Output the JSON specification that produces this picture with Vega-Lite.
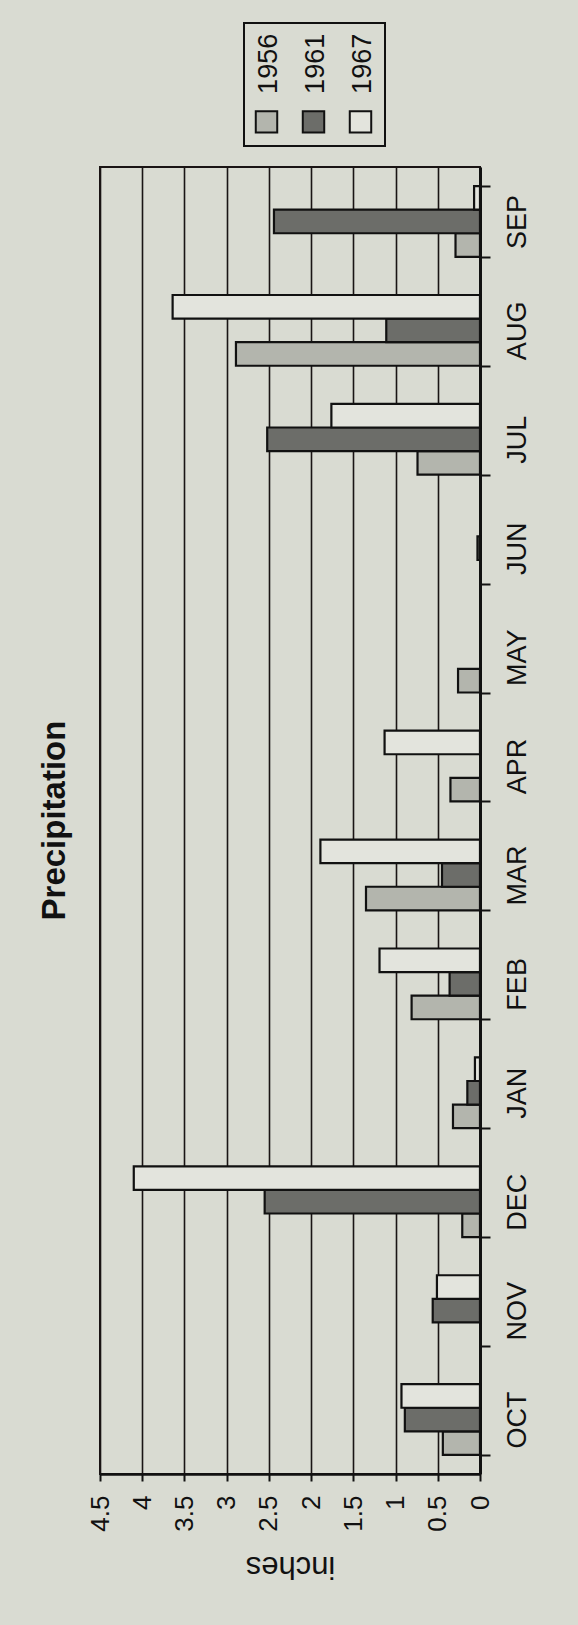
{
  "$schema": "https://vega.github.io/schema/vega-lite/v6.json",
  "width": 380,
  "height": 1307,
  "autosize": {"type": "none"},
  "padding": {"left": 100, "top": 167, "right": 98, "bottom": 151},
  "background": "#d9dbd2",
  "config": {
    "font": "Liberation Sans",
    "view": {"stroke": "#1a1414", "strokeWidth": 2}
  },
  "title": {
    "text": "Precipitation",
    "orient": "left",
    "anchor": "middle",
    "fontSize": 33,
    "font": "Liberation Sans",
    "fontWeight": "bold",
    "color": "#111111",
    "offset": 15
  },
  "data": {
    "values": [
      {"month": "OCT", "year": "1956", "value": 0.44},
      {"month": "OCT", "year": "1961", "value": 0.89},
      {"month": "OCT", "year": "1967", "value": 0.93},
      {"month": "NOV", "year": "1961", "value": 0.56},
      {"month": "NOV", "year": "1967", "value": 0.51},
      {"month": "DEC", "year": "1956", "value": 0.21},
      {"month": "DEC", "year": "1961", "value": 2.55},
      {"month": "DEC", "year": "1967", "value": 4.10},
      {"month": "JAN", "year": "1956", "value": 0.32},
      {"month": "JAN", "year": "1961", "value": 0.15},
      {"month": "JAN", "year": "1967", "value": 0.06},
      {"month": "FEB", "year": "1956", "value": 0.81},
      {"month": "FEB", "year": "1961", "value": 0.36},
      {"month": "FEB", "year": "1967", "value": 1.19},
      {"month": "MAR", "year": "1956", "value": 1.35},
      {"month": "MAR", "year": "1961", "value": 0.45},
      {"month": "MAR", "year": "1967", "value": 1.89},
      {"month": "APR", "year": "1956", "value": 0.35},
      {"month": "APR", "year": "1967", "value": 1.13},
      {"month": "MAY", "year": "1956", "value": 0.26},
      {"month": "JUN", "year": "1961", "value": 0.03},
      {"month": "JUL", "year": "1956", "value": 0.74},
      {"month": "JUL", "year": "1961", "value": 2.52},
      {"month": "JUL", "year": "1967", "value": 1.76},
      {"month": "AUG", "year": "1956", "value": 2.89},
      {"month": "AUG", "year": "1961", "value": 1.11},
      {"month": "AUG", "year": "1967", "value": 3.64},
      {"month": "SEP", "year": "1956", "value": 0.29},
      {"month": "SEP", "year": "1961", "value": 2.44},
      {"month": "SEP", "year": "1967", "value": 0.07}
    ]
  },
  "mark": {"type": "bar", "stroke": "#111111", "strokeWidth": 2.2},
  "encoding": {
    "y": {
      "field": "month",
      "type": "nominal",
      "sort": ["SEP", "AUG", "JUL", "JUN", "MAY", "APR", "MAR", "FEB", "JAN", "DEC", "NOV", "OCT"],
      "scale": {"paddingInner": 0.35, "paddingOuter": 0.175},
      "axis": {
        "orient": "right",
        "title": null,
        "labelAngle": -90,
        "labelFontSize": 27,
        "labelColor": "#111111",
        "labelPadding": 14,
        "tickBand": "extent",
        "tickSize": 10,
        "tickWidth": 2,
        "tickColor": "#111111",
        "domainColor": "#111111",
        "domainWidth": 3,
        "grid": false
      }
    },
    "yOffset": {
      "field": "year",
      "type": "nominal",
      "sort": ["1967", "1961", "1956"],
      "scale": {"paddingInner": 0, "paddingOuter": 0}
    },
    "x": {
      "field": "value",
      "type": "quantitative",
      "scale": {"domain": [0, 4.5], "reverse": true, "nice": false, "zero": true},
      "axis": {
        "values": [0, 0.5, 1, 1.5, 2, 2.5, 3, 3.5, 4, 4.5],
        "format": "~g",
        "title": "inches",
        "titleAngle": 180,
        "titleBaseline": "bottom",
        "titleFontSize": 31,
        "titleFontWeight": "normal",
        "titleColor": "#111111",
        "titlePadding": 18,
        "labelAngle": -90,
        "labelFontSize": 26,
        "labelColor": "#111111",
        "labelPadding": 14,
        "tickSize": 7,
        "tickWidth": 2,
        "tickColor": "#111111",
        "domainColor": "#111111",
        "domainWidth": 2.5,
        "grid": true,
        "gridColor": "#1a1414",
        "gridWidth": 1.6,
        "gridOpacity": 1
      }
    },
    "color": {
      "field": "year",
      "type": "nominal",
      "scale": {"domain": ["1956", "1961", "1967"], "range": ["#b3b5ad", "#6c6d69", "#e3e4dd"]},
      "legend": {
        "title": " ",
        "titleFontSize": 48,
        "titlePadding": 28,
        "titleColor": "#d9dbd2",
        "orient": "none",
        "legendX": 144,
        "legendY": -144,
        "direction": "horizontal",
        "columns": 3,
        "symbolType": "square",
        "symbolSize": 460,
        "symbolStrokeColor": "#111111",
        "symbolStrokeWidth": 2,
        "symbolOpacity": 1,
        "labelFontSize": 27,
        "labelColor": "#111111",
        "labelAlign": "left",
        "labelBaseline": "middle",
        "labelOffset": -11,
        "columnPadding": 15,
        "padding": 9,
        "fillColor": "#d9dbd2",
        "strokeColor": "#111111",
        "encode": {
          "legend": {"update": {"strokeWidth": {"value": 2}}},
          "labels": {"update": {"angle": {"value": -90}, "dx": {"value": 28}}}
        }
      }
    }
  }
}
